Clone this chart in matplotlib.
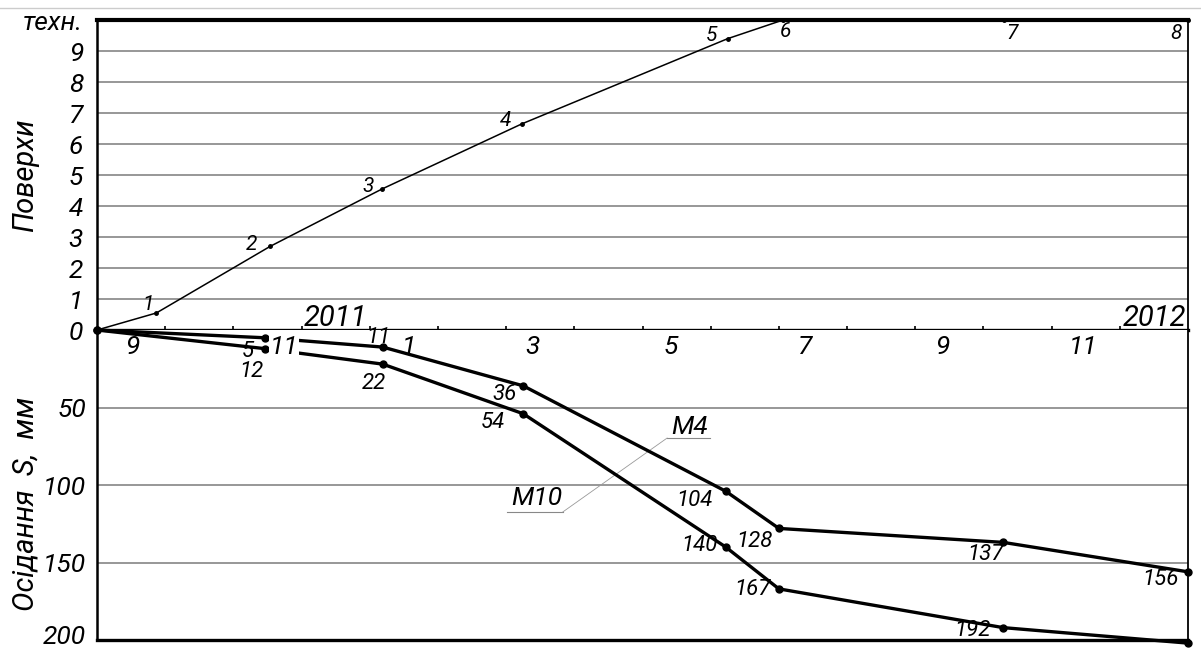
import numpy as np
import matplotlib.pyplot as plt
from matplotlib.lines import Line2D
from matplotlib.transforms import ScaledTranslation

# ---------------- дані ----------------
# час у місяцях від 1 вересня 2011
floor_t = [0, 0.87, 2.54, 4.18, 6.23, 9.25, 10.06, 13.3, 16.0]
floors = [0, 0.55, 2.7, 4.55, 6.65, 9.4, 10, 10, 10]
floor_marks = ['', '1', '2', '3', '4', '5', '6', '7', '8']

settle_t = [0, 2.46, 4.19, 6.25, 9.22, 10.0, 13.29, 16.0]
s_m4 = [0, 5, 11, 36, 104, 128, 137, 156]
s_m10 = [0, 12, 22, 54, 140, 167, 192, 202]

month_labels = ['9', '11', '1', '3', '5', '7', '9', '11']
month_pos = [0.51, 2.74, 4.57, 6.38, 8.42, 10.38, 12.4, 14.46]
year_labels = ['2011', '2012']
year_pos = [3.49, 15.5]

floor_ticks = list(range(11))
floor_ticklabels = [str(i) for i in range(10)] + ['техн.']
settle_ticks = [50, 100, 150, 200]

# зсуви підписів, пікселі
floor_off = [(0, 0), (-8, 8), (-19, 2), (-14, 2), (-16, 3), (-16, 3), (3, -11), (8, -13), (-12, -13)]
m4_off = [(0, 0), (-17, -14), (-4, 10), (-19, -9), (-31, -9), (-24, -13), (-18, -12), (-28, -8)]
m10_off = [(0, 0), (-13, -23), (-9, -19), (-30, -9), (-26, 2), (-26, -1), (-31, -3), (-22, 15)]

plt.rcParams['font.family'] = ['Roboto', 'DejaVu Sans']
plt.rcParams['font.style'] = 'italic'

fig = plt.figure(figsize=(12.01, 6.48), dpi=100)
ax_up = fig.add_axes([0.0808, 0.4907, 0.9084, 0.4784])
ax_low = fig.add_axes([0.0808, 0.0123, 0.9084, 0.4784], sharex=ax_up)

fig.add_artist(Line2D([0, 1], [0.988, 0.988], transform=fig.transFigure, color='#cccccc', lw=1))

# ---------------- верхній графік: поверхи ----------------
ax_up.set_xlim(0, 16)
ax_up.set_ylim(0, 10)
for f in range(1, 10):
    ax_up.axhline(f, color='#7a7a7a', lw=1.1, zorder=1)
ax_up.plot(floor_t, floors, color='black', lw=1.1, marker='o', ms=2.5, clip_on=False, zorder=3)
for t, f, lab, off in zip(floor_t, floors, floor_marks, floor_off):
    if lab:
        ax_up.annotate(lab, (t, f), xytext=off, textcoords='offset pixels',
                       ha='center', va='center', fontsize=15)

ax_up.set_yticks(floor_ticks)
ax_up.set_yticklabels(floor_ticklabels, fontsize=19)
ax_up.tick_params(axis='y', length=0, pad=10)
ax_up.set_xticks(range(1, 16))
ax_up.tick_params(axis='x', bottom=True, direction='inout', length=6, width=1.2, labelbottom=False)
ax_up.spines['top'].set_linewidth(3)
ax_up.spines['left'].set_linewidth(1.8)
ax_up.spines['right'].set_linewidth(1.3)
ax_up.spines['bottom'].set_linewidth(2.4)
ax_up.set_ylabel('Поверхи', fontsize=21)
ax_up.yaxis.set_label_coords(-0.053, 0.5)

for lab, x in zip(year_labels, year_pos):
    ax_up.text(x, 0.39, lab, ha='center', va='center', fontsize=21)

# ---------------- нижній графік: осідання ----------------
ax_low.set_ylim(200, 0)
for s in [50, 100, 150]:
    ax_low.axhline(s, color='#7a7a7a', lw=1.1, zorder=1)
ax_low.plot(settle_t, s_m4, color='black', lw=2.4, marker='o', ms=5, clip_on=False, zorder=3)
ax_low.plot(settle_t, s_m10, color='black', lw=2.4, marker='o', ms=5, clip_on=False, zorder=3)
for t, v, off in zip(settle_t[1:], s_m4[1:], m4_off[1:]):
    ax_low.annotate(str(v), (t, v), xytext=off, textcoords='offset pixels',
                    ha='center', va='center', fontsize=16)
for t, v, off in zip(settle_t[1:], s_m10[1:], m10_off[1:]):
    ax_low.annotate(str(v), (t, v), xytext=off, textcoords='offset pixels',
                    ha='center', va='center', fontsize=16)

for lab, x in zip(month_labels, month_pos):
    box = dict(facecolor='white', edgecolor='none', pad=0.2) if (lab == '11' and x < 3) else None
    ax_low.text(x, 11, lab, ha='center', va='center', fontsize=19, zorder=5, bbox=box)

# виноски M4 / M10
ax_low.plot([8.36, 8.99], [69.7, 69.7], color='#888888', lw=0.8)
ax_low.plot([6.01, 6.83], [117.4, 117.4], color='#888888', lw=0.8)
ax_low.plot([8.36, 6.83], [69.7, 117.4], color='#999999', lw=0.6)
ax_low.text(8.69, 62.5, 'M4', ha='center', va='center', fontsize=19)
ax_low.text(6.45, 108.4, 'M10', ha='center', va='center', fontsize=19)

ax_low.set_yticks(settle_ticks)
ax_low.set_yticklabels([str(s) for s in settle_ticks], fontsize=19)
ax_low.tick_params(axis='y', length=0, pad=8)
ax_low.tick_params(axis='x', bottom=False, top=False, length=0, labelbottom=False)
ax_low.spines['top'].set_visible(False)
ax_low.spines['left'].set_linewidth(1.8)
ax_low.spines['right'].set_linewidth(1.3)
ax_low.spines['bottom'].set_linewidth(2.4)
ax_low.set_ylabel('Осідання  S,  мм', fontsize=21)
ax_low.yaxis.set_label_coords(-0.053, 0.44)

# підняти нижній підпис "200", щоб не обрізався
lab200 = ax_low.get_yticklabels()[-1]
lab200.set_transform(lab200.get_transform() + ScaledTranslation(0, 4 / 72, fig.dpi_scale_trans))

fig.savefig('out.png', dpi=100)
